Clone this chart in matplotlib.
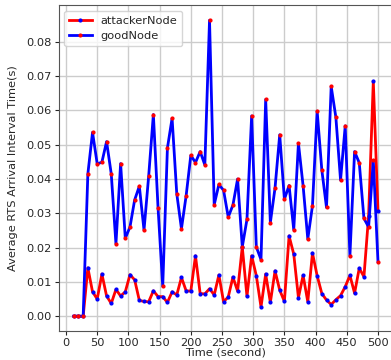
import numpy as np
import matplotlib
matplotlib.use("Agg")
import matplotlib.pyplot as plt

# Zeitpunkte (Sekunden)
zeit = [12.5, 20.0, 27.5, 35.0, 42.5, 50.0, 57.5, 65.0, 72.5, 80.0,
        87.5, 95.0, 102.5, 110.0, 117.5, 125.0, 132.5, 140.0, 147.5, 155.0,
        162.5, 170.0, 177.5, 185.0, 192.5, 200.0, 207.5, 215.0, 222.5, 230.0,
        237.5, 245.0, 252.5, 260.0, 267.5, 275.0, 282.5, 290.0, 297.5, 305.0,
        312.5, 320.0, 327.5, 335.0, 342.5, 350.0, 357.5, 365.0, 372.5, 380.0,
        387.5, 395.0, 402.5, 410.0, 417.5, 425.0, 432.5, 440.0, 447.5, 455.0,
        462.5, 470.0, 477.5, 485.0, 492.5, 500.0]

# mittlere RTS-Ankunftsintervalle (in 0.01 s)
attacker = [0, 0, 0, 1.41, 0.71, 0.50, 1.23, 0.59, 0.37, 0.78,
            0.59, 0.71, 1.21, 1.06, 0.46, 0.43, 0.42, 0.74, 0.57, 0.57,
            0.40, 0.71, 0.62, 1.13, 0.74, 0.73, 1.76, 0.66, 0.65, 0.80,
            0.62, 1.20, 0.42, 0.56, 1.14, 0.73, 2.02, 0.58, 1.76, 1.18,
            0.27, 1.23, 0.40, 1.32, 0.76, 0.43, 2.34, 1.81, 0.54, 1.19,
            0.42, 1.84, 1.18, 0.66, 0.47, 0.34, 0.48, 0.60, 0.86, 1.19,
            0.67, 1.40, 1.15, 2.93, 6.85, 3.07]

good = [0, 0, 0, 4.15, 5.36, 4.44, 4.49, 5.09, 4.15, 2.11,
        4.45, 2.27, 2.60, 3.39, 3.79, 2.51, 4.09, 5.88, 3.16, 0.87,
        4.90, 5.77, 3.57, 2.55, 3.51, 4.69, 4.48, 4.80, 4.41, 8.63,
        3.25, 3.84, 3.67, 2.89, 3.24, 4.00, 2.02, 2.82, 5.84, 2.02,
        1.65, 6.32, 2.73, 3.74, 5.29, 3.41, 3.81, 2.52, 5.04, 3.80,
        2.25, 3.22, 5.98, 4.26, 3.17, 6.70, 5.80, 3.97, 5.55, 1.76,
        4.80, 4.47, 2.85, 2.60, 4.54, 1.59]

attacker = np.array(attacker) / 100
good = np.array(good) / 100

plt.rcParams['font.size'] = 8.2
plt.rcParams['text.color'] = '#262626'
plt.rcParams['axes.labelcolor'] = '#262626'
plt.rcParams['xtick.color'] = '#262626'
plt.rcParams['ytick.color'] = '#262626'
plt.rcParams['xtick.major.size'] = 3
plt.rcParams['ytick.major.size'] = 3
plt.rcParams['xtick.major.pad'] = 2
plt.rcParams['ytick.major.pad'] = 2

fig = plt.figure(figsize=(3.91, 3.60), dpi=100)
ax = fig.add_axes([0.1499, 0.0806, 0.8557, 0.9044])

ax.plot(zeit, attacker, color='red', lw=2, marker='.', markersize=4,
        markerfacecolor='blue', markeredgecolor='blue', label='attackerNode')
ax.plot(zeit, good, color='blue', lw=2, marker='.', markersize=4,
        markerfacecolor='red', markeredgecolor='red', label='goodNode')

ax.set_xlabel('Time (second)', labelpad=0)
ax.set_ylabel('Average RTS Arrival Interval Time(s)', labelpad=6)
ax.set_xticks(np.arange(0, 501, 50))
ax.set_yticks(np.arange(0, 0.081, 0.01))
ax.grid(True, color='#cccccc', lw=1)
ax.set_axisbelow(True)
for s in ax.spines.values():
    s.set_color('#555555')
ax.legend(loc='upper left')

fig.savefig('out.png', dpi=100)
